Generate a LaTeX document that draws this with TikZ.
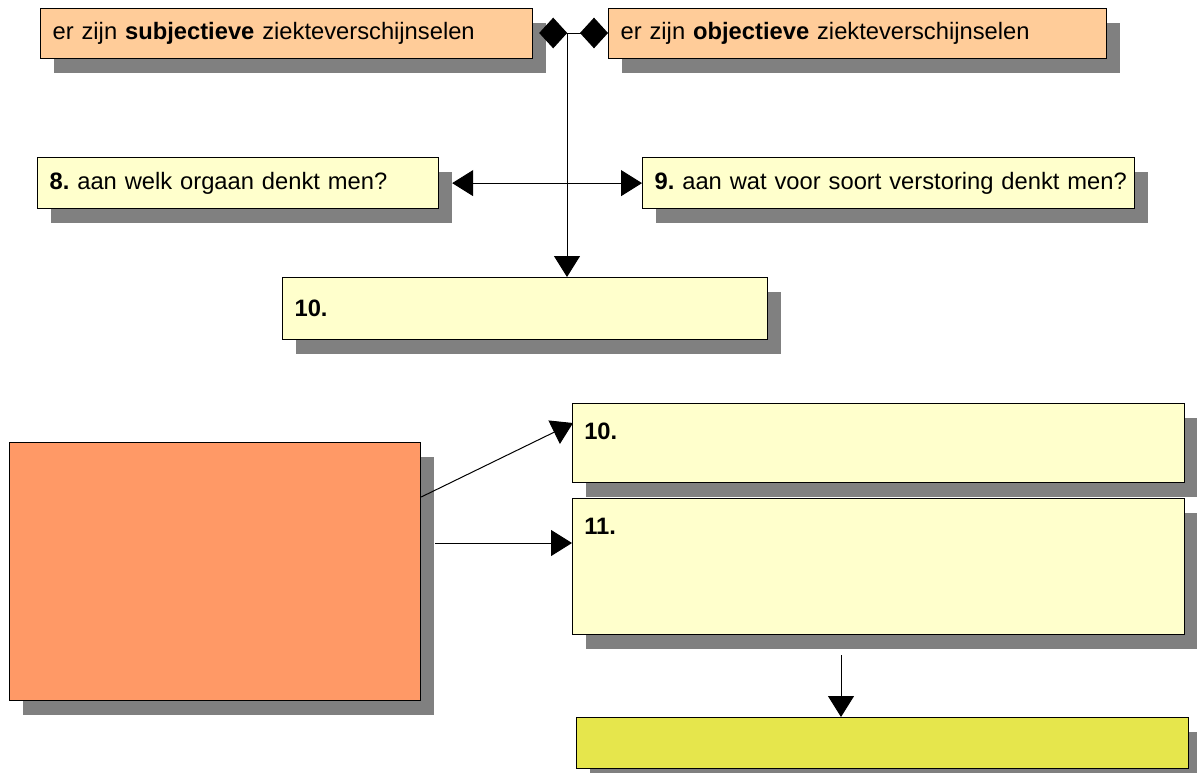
\documentclass[tikz,border=0pt]{standalone}
\usepackage{fontspec}
\setmainfont{Liberation Sans}
\usetikzlibrary{arrows.meta,shadows,calc}
\definecolor{peach}{HTML}{FFCC99}
\definecolor{cream}{HTML}{FFFFCC}
\definecolor{salmon}{HTML}{FF9966}
\definecolor{olivey}{HTML}{E6E64C}
\definecolor{shade}{HTML}{808080}
\frenchspacing
\tikzset{
  box/.style={draw=black, line width=0.9pt, rectangle, anchor=north west,
    inner xsep=9pt, inner ysep=0pt, align=left,
    font=\fontsize{17.8}{22}\selectfont\frenchspacing,
    drop shadow={shadow xshift=9.75pt, shadow yshift=-10.5pt, fill=shade, opacity=1}},
  toplabel/.style={label={[anchor=north west, inner sep=0pt, xshift=9pt, yshift=-15pt,
    font=\fontsize{17.8}{22}\selectfont\bfseries]north west:#1}},
  diam/.style={{Diamond[length=21pt,width=23pt]}-{Diamond[length=21pt,width=23pt]}, line width=0.75pt},
  arr/.style={-{Triangle[length=15.75pt,width=19.5pt]}, line width=0.75pt},
  darr/.style={{Triangle[length=15.75pt,width=19.5pt]}-{Triangle[length=15.75pt,width=19.5pt]}, line width=0.75pt},
}
\begin{document}
\begin{tikzpicture}[x=0.75pt,y=-0.75pt]
\useasboundingbox[fill=white] (0,0) rectangle (1197,772);

\node[box, fill=peach, minimum width=369pt, minimum height=37.5pt, text width=351pt] (subj) at (40,8)
  {\mbox{er zijn \textbf{subjectieve} ziekteverschijnselen}};
\node[box, fill=peach, minimum width=373.5pt, minimum height=37.5pt, text width=355.5pt] (obj) at (608,8)
  {\mbox{er zijn \textbf{objectieve} ziekteverschijnselen}};
\node[box, fill=cream, minimum width=300.75pt, minimum height=38.25pt, text width=282.75pt] (q8) at (37,157)
  {\mbox{\textbf{8.} aan welk orgaan denkt men?}};
\node[box, fill=cream, minimum width=369pt, minimum height=38.25pt, text width=351pt] (q9) at (642,157)
  {\mbox{\textbf{9.} aan wat voor soort verstoring denkt men?}};
\node[box, fill=cream, minimum width=363.75pt, minimum height=46.5pt, text width=345.75pt] (t10) at (282,277)
  {\textbf{10.}};
\node[box, fill=salmon, minimum width=308.25pt, minimum height=193.5pt] (org) at (9,442) {};
\node[box, fill=cream, minimum width=459pt, minimum height=59.25pt, toplabel={10.}] (b10) at (572,403) {};
\node[box, fill=cream, minimum width=459pt, minimum height=102pt, toplabel={11.}] (b11) at (572,498) {};
\node[box, fill=olivey, minimum width=459pt, minimum height=38.25pt] (fin) at (576,717) {};

% diamonds connector
\coordinate (dy) at (0,33);
\draw[diam, shorten <=4.5pt] (subj.east |- dy) -- (obj.west |- dy);
\coordinate (dmid) at (567,33);
\draw[arr] (dmid) -- (t10.north -| dmid);
\draw[darr, shorten <=9.75pt] (q8.east) -- (q9.west);

% lower connectors
\draw[arr] ($(org.north east)+(0,55)$) -- ($(b10.north west)+(1,20)$);
\coordinate (hy) at (0,543);
\draw[arr, shorten <=10.5pt] (org.east |- hy) -- (b11.west |- hy);
\coordinate (vs) at (841,655);
\draw[arr] (vs) -- (fin.north -| vs);
\end{tikzpicture}
\end{document}
